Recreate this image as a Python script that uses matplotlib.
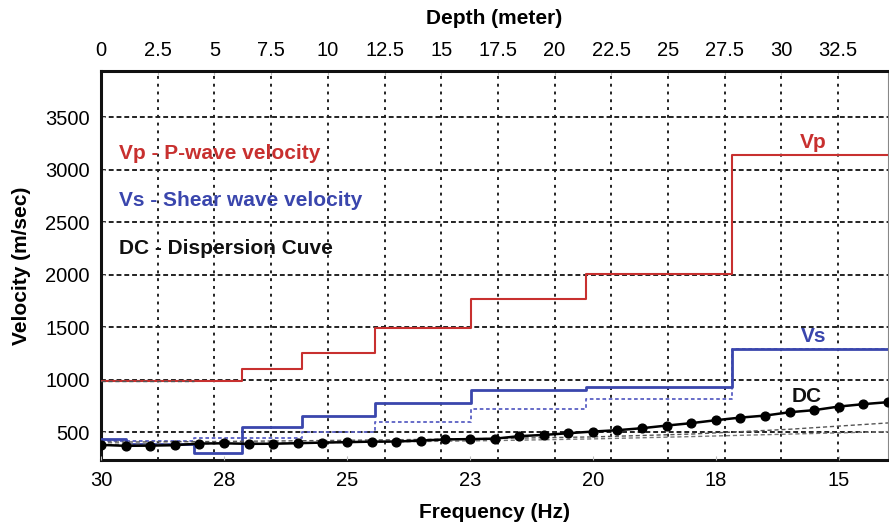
import numpy as np
import matplotlib
matplotlib.use('Agg')
import matplotlib.pyplot as plt

plt.rcParams['font.family'] = ['Liberation Sans', 'DejaVu Sans']

# layer tops (depth, m) and layer velocities
layer_top = [0, 1.1, 4.1, 6.2, 8.85, 12.1, 16.3, 21.4, 27.8]
max_depth = 34.7
vp = [990, 990, 990, 1100, 1255, 1495, 1770, 2010, 3140]
vs = [436, 389, 300, 550, 655, 776, 900, 929, 1295]
vs_init = [415, 415, 443, 443, 506, 601, 719, 817, 1295]

# dispersion curve samples (equally spaced frequency samples)
dc = [379, 370, 372, 376, 392, 394, 389, 390, 395, 401, 405, 410, 411, 420,
      431, 434, 438, 462, 474, 490, 506, 519, 538, 563, 586, 614, 639, 658,
      690, 710, 744, 767, 786]
# other modelled curves (sampled every 4th frequency sample)
mode_a = [405, 410, 418, 428, 440, 455, 482, 528, 588]
mode_b = [385, 390, 398, 408, 420, 436, 458, 482, 505]

depth_ticks = [0, 2.5, 5, 7.5, 10, 12.5, 15, 17.5, 20, 22.5, 25, 27.5, 30, 32.5]
depth_labels = ['0', '2.5', '5', '7.5', '10', '12.5', '15', '17.5', '20',
                '22.5', '25', '27.5', '30', '32.5']
freq_ticks = [0, 5, 10, 15, 20, 25, 30]
freq_labels = ['30', '28', '25', '23', '20', '18', '15']
vel_ticks = [500, 1000, 1500, 2000, 2500, 3000, 3500]

red = '#c8302f'
blue = '#3a46ad'
fs = 14.5
fs_txt = 15

fig = plt.figure(figsize=(8.89, 5.25), dpi=100)
ax = fig.add_axes([0.1136, 0.1238, 0.8853, 0.741])
axf = ax.twiny()

# depth axis (top)
x_steps = layer_top + [max_depth]
ax.step(x_steps, vp + [vp[-1]], where='post', color=red, lw=1.5, zorder=3)
ax.plot([0, 4.1], [vp[0], vp[0]], color='#555555', lw=1.0,
        linestyle=(0, (3, 2)), zorder=4)
ax.step(x_steps, vs_init + [vs_init[-1]], where='post', color='#5a60c4',
        lw=1.3, linestyle=(0, (2, 1.5)), zorder=3)
ax.step(x_steps, vs + [vs[-1]], where='post', color=blue, lw=2.0, zorder=4)

ax.set_xlim(0, max_depth)
ax.set_ylim(235, 3940)
ax.xaxis.tick_top()
ax.xaxis.set_label_position('top')
ax.set_xticks(depth_ticks)
ax.set_xticklabels(depth_labels)
ax.set_yticks(vel_ticks)
ax.set_xlabel('Depth (meter)', fontsize=fs_txt, fontweight='bold', labelpad=12)
ax.set_ylabel('Velocity (m/sec)', fontsize=fs_txt, fontweight='bold', labelpad=10)
ax.tick_params(axis='both', labelsize=fs, length=3, color='#bbbbbb',
               direction='in', pad=8)
ax.xaxis.grid(True, color='#222222', lw=1.4, linestyle=(0, (1.5, 2.5)))
ax.yaxis.grid(True, color='#222222', lw=1.4, linestyle=(0, (2.5, 1.5)))
ax.set_axisbelow(True)

for side in ['top', 'left', 'bottom']:
    ax.spines[side].set_linewidth(2.2)
    ax.spines[side].set_color('#111111')
ax.spines['right'].set_linewidth(0.8)
ax.spines['right'].set_color('#888888')

# frequency axis (bottom)
idx = np.arange(len(dc))
idx4 = idx[::4]
axf.plot(idx4, mode_a, color='#555555', lw=1.0, linestyle=(0, (3, 2)), zorder=2)
axf.plot(idx4, mode_b, color='#777777', lw=1.0, linestyle=(0, (3, 2)), zorder=2)
axf.plot(idx, dc, color='black', lw=1.8, marker='o', markersize=6.3, zorder=5)
axf.set_xlim(0, len(dc) - 1)
axf.xaxis.tick_bottom()
axf.xaxis.set_label_position('bottom')
axf.set_xticks(freq_ticks)
axf.set_xticklabels(freq_labels)
axf.set_xlabel('Frequency (Hz)', fontsize=fs_txt, fontweight='bold', labelpad=9)
axf.tick_params(axis='x', labelsize=fs, length=3, color='#bbbbbb',
                direction='in', pad=8)
for s in axf.spines.values():
    s.set_visible(False)

# legend-like text and curve labels
ax.text(0.8, 3150, 'Vp - P-wave velocity', color=red, fontsize=fs_txt,
        fontweight='bold', va='center', ha='left')
ax.text(0.8, 2710, 'Vs - Shear wave velocity', color=blue, fontsize=fs_txt,
        fontweight='bold', va='center', ha='left')
ax.text(0.8, 2250, 'DC - Dispersion Cuve', color='#111111', fontsize=fs_txt,
        fontweight='bold', va='center', ha='left')
ax.text(31.4, 3262, 'Vp', color=red, fontsize=fs_txt, fontweight='bold',
        va='center', ha='center')
ax.text(31.4, 1407, 'Vs', color=blue, fontsize=fs_txt, fontweight='bold',
        va='center', ha='center')
ax.text(31.1, 836, 'DC', color='#111111', fontsize=fs_txt, fontweight='bold',
        va='center', ha='center')

fig.savefig('out.png', dpi=100)
